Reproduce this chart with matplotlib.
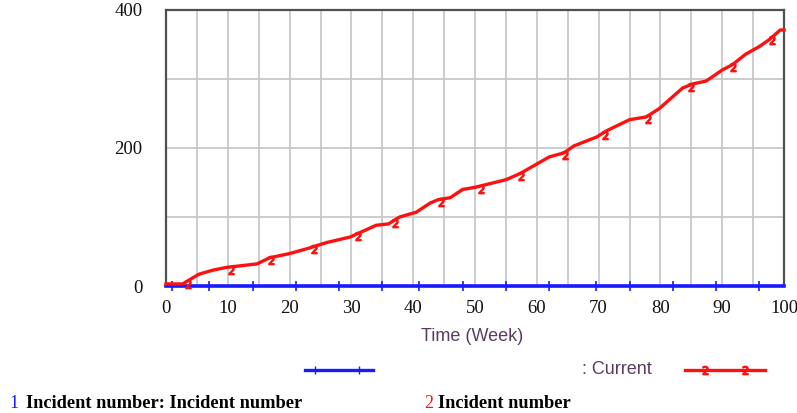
import matplotlib.pyplot as plt
from matplotlib.lines import Line2D
import numpy as np

# red series: Incident number (Current run)
time_red = [0, 2.7, 5.3, 7.6, 9.8, 14.7, 16.8, 20, 22.8, 26, 29.8, 34, 36, 37.8,
            40.5, 42.7, 44, 46, 48, 50, 55, 57.3, 62, 64.4, 66, 69.7, 71.3, 75,
            77.7, 79.8, 83.6, 85.3, 87.4, 90, 91.7, 93.8, 96, 97.6, 99.4, 100]
incidents_red = [3, 3, 17, 23, 27, 32, 41, 47, 54, 63, 71, 88, 90, 100,
                 107, 120, 125, 128, 140, 143, 154, 163, 187, 193, 203, 216, 225, 241,
                 245, 257, 287, 293, 297, 313, 321, 336, 347, 357, 371, 371]

# blue series: Incident number: Incident number (flat at zero)
time_blue = [0, 100]
incidents_blue = [0, 0]
blue_marks_t = [1, 7, 14, 21, 28, 35, 41, 48, 55, 62, 69.5, 75, 82, 89, 96]
red_marks_t = [3.5, 10.5, 17, 24, 31, 37, 44.5, 51, 57.5, 64.5, 71, 78, 85, 91.7, 98]

x_ticks = [0, 10, 20, 30, 40, 50, 60, 70, 80, 90, 100]
y_ticks = [0, 200, 400]

RED = '#ff1010'
BLUE = '#1a1aff'
PURPLE = '#5b3b63'

plt.rcParams['font.family'] = ['Liberation Serif', 'DejaVu Serif']

fig = plt.figure(figsize=(7.97, 4.13), dpi=100)
ax = fig.add_axes([0.2083, 0.3075, 0.7754, 0.6683])

ax.plot(time_blue, incidents_blue, color=BLUE, lw=2.6, zorder=3, clip_on=False)
ax.plot(blue_marks_t, [0] * len(blue_marks_t), ls='none', marker='|', ms=7,
        mew=1.2, color=BLUE, zorder=3, clip_on=False)

ax.plot(time_red, incidents_red, color=RED, lw=2.4, zorder=4, clip_on=False)
# "2" markers sit a little under the line
red_marks_v = np.interp(red_marks_t, time_red, incidents_red) - 4
ax.plot(red_marks_t, red_marks_v, ls='none', marker='$2$', ms=6,
        color=RED, zorder=5, clip_on=False)

ax.set_xlim(0, 100)
ax.set_ylim(0, 400)
ax.set_xticks(range(0, 101, 5))
ax.set_xticklabels([str(v) if v in x_ticks else '' for v in range(0, 101, 5)])
ax.set_yticks(range(0, 401, 100))
ax.set_yticklabels([str(v) if v in y_ticks else '' for v in range(0, 401, 100)])
ax.grid(True, color='#c8c8c8', lw=1.3)
ax.set_axisbelow(True)
ax.tick_params(length=0, labelsize=13.5, colors='#111111')
ax.tick_params(axis='y', pad=17)
ax.tick_params(axis='x', pad=10)
for s in ax.spines.values():
    s.set_color('#505050')
    s.set_linewidth(1.6)

fig.text(0.592, 0.186, 'Time (Week)', family='Liberation Sans', fontsize=13,
         color=PURPLE, ha='center', va='center')

# legend row
fig.add_artist(Line2D([0.383, 0.468], [0.105, 0.105], color=BLUE, lw=2.4))
fig.add_artist(Line2D([0.395, 0.45], [0.105, 0.105], ls='none', marker='|',
                      ms=6, color=BLUE))
fig.text(0.73, 0.105, ': Current', family='Liberation Sans', fontsize=13,
         color=PURPLE, ha='left', va='center')
fig.add_artist(Line2D([0.86, 0.96], [0.105, 0.105], color=RED, lw=2.4))
fig.add_artist(Line2D([0.885, 0.935], [0.105, 0.105], ls='none', marker='$2$',
                      ms=6, color=RED))

fig.text(0.012, 0.022, '1', fontsize=13, color=BLUE, va='center')
fig.text(0.032, 0.022, 'Incident number: Incident number', fontsize=13.2,
         weight='bold', color='black', va='center')
fig.text(0.532, 0.022, '2', fontsize=13, color=RED, va='center')
fig.text(0.549, 0.022, 'Incident number', fontsize=13.2, weight='bold',
         color='black', va='center')

fig.savefig('out.png', dpi=100)
